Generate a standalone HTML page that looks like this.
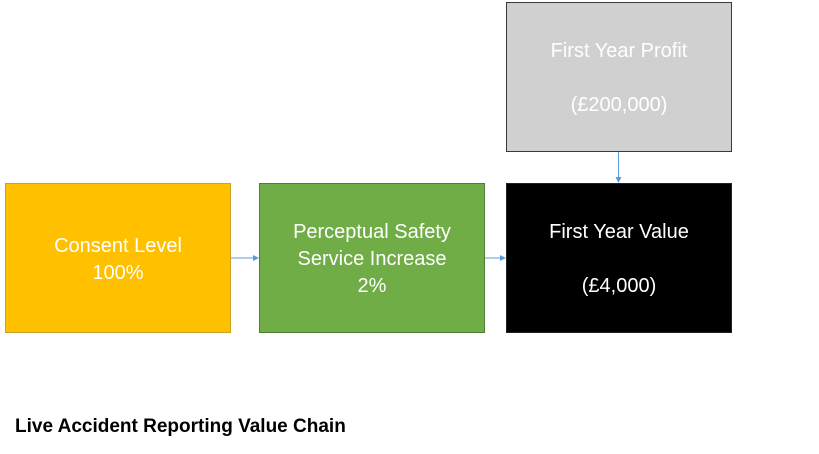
<!DOCTYPE html>
<html><head><meta charset="utf-8"><style>
body{margin:0;width:819px;height:454px;background:#fff;position:relative;overflow:hidden;font-family:"Liberation Sans",sans-serif}
.box{position:absolute;box-sizing:border-box;color:#fff;font-size:20px;text-align:center;line-height:27px;display:flex;flex-direction:column;justify-content:center;padding-top:3px}
</style></head><body>
<div class="box" style="left:506px;top:2px;width:226px;height:150px;background:#d0d0d0;border:1px solid #3a3a3a"><div>First Year Profit</div><div style="height:27px"></div><div>(£200,000)</div></div>
<div class="box" style="left:5px;top:183px;width:226px;height:150px;background:#ffc000;border:1px solid #c9a227"><div>Consent Level</div><div>100%</div></div>
<div class="box" style="left:259px;top:183px;width:226px;height:150px;background:#70ad47;border:1px solid #507e32"><div>Perceptual Safety</div><div>Service Increase</div><div>2%</div></div>
<div class="box" style="left:506px;top:183px;width:226px;height:150px;background:#000;border:1px solid #222"><div>First Year Value</div><div style="height:27px"></div><div>(£4,000)</div></div>
<svg width="819" height="454" style="position:absolute;left:0;top:0">
<g stroke="#5b9bd5" fill="#5b9bd5">
<line x1="231" y1="258" x2="253" y2="258"/><polygon points="253,255 259,258 253,261" stroke="none"/>
<line x1="485" y1="258" x2="500" y2="258"/><polygon points="500,255 506,258 500,261" stroke="none"/>
<line x1="618.5" y1="152" x2="618.5" y2="177"/><polygon points="615.5,177 618.5,183 621.5,177" stroke="none"/>
</g></svg>
<div style="position:absolute;left:15px;top:416px;font-weight:bold;font-size:19px;color:#000">Live Accident Reporting Value Chain</div>
</body></html>
